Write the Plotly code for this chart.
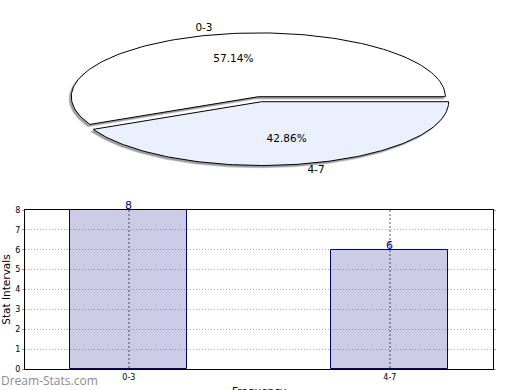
import math
import plotly.graph_objects as go

# ---- data ----
categories = ["0-3", "4-7"]
counts = [8, 6]
y_ticks = [0, 1, 2, 3, 4, 5, 6, 7, 8]

# ---- styles ----
W, H = 520, 390
slice_colors = ["#FFFFFF", "#EAF0FD"]
bar_fill = "rgba(0,0,128,0.2)"
bar_line = "#000080"
FONT = "DejaVu Sans"

fig = go.Figure()

# ---- elliptical (tilted) pie drawn on a pixel-like axis ----
cx, cy = 260.0, 99.2
rx, ry = 187.0, 63.8
explode = 0.04
total = sum(counts)
fracs = [c / total for c in counts]


def slice_pts(a0, a1, ox, oy, n=120):
    xs, ys = [ox], [oy]
    for i in range(n + 1):
        a = math.radians(a0 + (a1 - a0) * i / n)
        xs.append(ox + rx * math.cos(a))
        ys.append(oy - ry * math.sin(a))
    xs.append(ox)
    ys.append(oy)
    return xs, ys


start = 0.0
geo = []
for cat, f in zip(categories, fracs):
    a0, a1 = start, start + 360 * f
    mid = math.radians((a0 + a1) / 2)
    ox = cx + explode * rx * math.cos(mid)
    oy = cy - explode * ry * math.sin(mid)
    geo.append((cat, f, a0, a1, mid, ox, oy))
    start = a1

# shadows
for cat, f, a0, a1, mid, ox, oy in geo:
    xs, ys = slice_pts(a0, a1, ox - 2.0, oy + 2.0)
    fig.add_trace(go.Scatter(x=xs, y=ys, mode="lines", fill="toself",
                             fillcolor="rgba(120,120,120,0.7)",
                             line=dict(color="rgba(150,150,150,0.45)", width=1.5),
                             xaxis="x2", yaxis="y2", hoverinfo="skip", showlegend=False))
# slices
for i, (cat, f, a0, a1, mid, ox, oy) in enumerate(geo):
    xs, ys = slice_pts(a0, a1, ox, oy)
    fig.add_trace(go.Scatter(x=xs, y=ys, mode="lines", fill="toself",
                             fillcolor=slice_colors[i],
                             line=dict(color="#000000", width=1),
                             xaxis="x2", yaxis="y2", hoverinfo="skip", showlegend=False))
# labels
for cat, f, a0, a1, mid, ox, oy in geo:
    px = ox + 0.6 * rx * math.cos(mid)
    py = oy - 0.6 * ry * math.sin(mid)
    fig.add_trace(go.Scatter(x=[px], y=[py], mode="text", text=[f"{f*100:.2f}%"],
                             textfont=dict(family=FONT, size=10.5, color="#000000"),
                             xaxis="x2", yaxis="y2", hoverinfo="skip", showlegend=False))
    lx = ox + 1.1 * rx * math.cos(mid)
    ly = oy - 1.1 * ry * math.sin(mid)
    pos = "middle left" if math.cos(mid) < 0 else "middle right"
    fig.add_trace(go.Scatter(x=[lx], y=[ly], mode="text", text=[cat], textposition=pos,
                             textfont=dict(family=FONT, size=10.5, color="#000000"),
                             xaxis="x2", yaxis="y2", hoverinfo="skip", showlegend=False))

# ---- bar chart ----
bar_x = list(range(len(categories)))
fig.add_trace(go.Bar(x=bar_x, y=counts, width=0.448,
                     marker=dict(color=bar_fill, line=dict(color=bar_line, width=1)),
                     showlegend=False))

annotations = []
for xv, c in zip(bar_x, counts):
    annotations.append(dict(x=xv, y=c, xref="x", yref="y", text=str(c), showarrow=False,
                            xanchor="center", yanchor="bottom", yshift=-4,
                            font=dict(family=FONT, size=11, color=bar_line)))

px0, px1 = 25, 493
py_top, py_bot = 210, 369
annotations += [
    dict(text="Frequency", x=(px0 + px1) / 2 / W, y=(H - 383) / H,
         xref="paper", yref="paper", xanchor="center", yanchor="top",
         showarrow=False, font=dict(family=FONT, size=10.5, color="#000000")),
    dict(text="Dream-Stats.com", x=-0.002, y=(H - 380) / H, xref="paper", yref="paper",
         xanchor="left", yanchor="middle", showarrow=False,
         font=dict(family="Open Sans", size=12, color="#8c8c8c")),
]

fig.update_layout(
    width=W, height=H,
    margin=dict(l=0, r=0, t=0, b=0, autoexpand=False),
    paper_bgcolor="white", plot_bgcolor="rgba(0,0,0,0)",
    font=dict(family=FONT, color="#000000"),
    bargap=0,
    xaxis=dict(domain=[px0 / W, px1 / W], range=[-0.398, 1.395],
               tickmode="array", tickvals=bar_x, ticktext=categories,
               tickfont=dict(size=8), showgrid=True, gridcolor="#ababab",
               griddash="2px,2px", gridwidth=2, zeroline=False,
               showline=True, linecolor="#000000", linewidth=1, mirror=True,
               ticks="", anchor="y"),
    yaxis=dict(domain=[(H - py_bot) / H, (H - py_top) / H], range=[0, 8],
               tickmode="array", tickvals=y_ticks, tickfont=dict(size=8),
               showgrid=True, gridcolor="#b0b0b0", griddash="1px,2px", gridwidth=1,
               zeroline=False, showline=True, linecolor="#000000", linewidth=1,
               mirror="ticks", ticks="outside", ticklen=2, tickcolor="#999999",
               title=dict(text="Stat Intervals", font=dict(size=10.5), standoff=2),
               anchor="x"),
    xaxis2=dict(domain=[0, 1], range=[0, W], visible=False, anchor="y2"),
    yaxis2=dict(domain=[0, 1], range=[H, 0], visible=False, anchor="x2"),
    annotations=annotations,
)

fig.write_html("out.html", config={"displayModeBar": False},
               post_script="document.body.style.margin='0';document.body.style.overflow='hidden';")
